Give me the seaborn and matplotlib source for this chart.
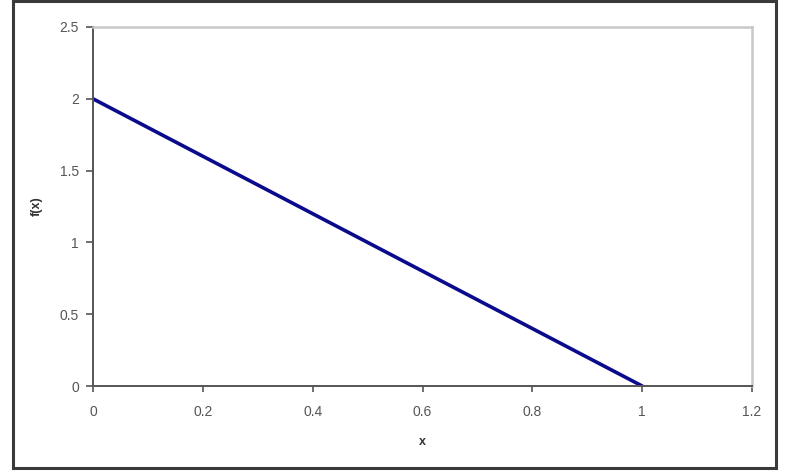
import matplotlib
matplotlib.use('Agg')
import matplotlib.pyplot as plt
import numpy as np
import pandas as pd
import seaborn as sns

sns.set_style('ticks')
plt.rcParams['font.family'] = ['Liberation Sans', 'DejaVu Sans']

# data: f(x) = 2 - 2x
x_vals = [0.0, 0.1, 0.2, 0.3, 0.4, 0.5, 0.6, 0.7, 0.8, 0.9, 1.0]
fx_vals = [2.0, 1.8, 1.6, 1.4, 1.2, 1.0, 0.8, 0.6, 0.4, 0.2, 0.0]
x_ticks = [0, 0.2, 0.4, 0.6, 0.8, 1, 1.2]
x_ticklabels = ['0', '0.2', '0.4', '0.6', '0.8', '1', '1.2']
y_ticks = [0, 0.5, 1, 1.5, 2, 2.5]
y_ticklabels = ['0', '0.5', '1', '1.5', '2', '2.5']

df = pd.DataFrame({'x': x_vals, 'f(x)': fx_vals})

fig = plt.figure(figsize=(7.9, 4.76), dpi=100)
fig.patch.set_facecolor('white')

# outer chart frame (Excel style)
frame = plt.Rectangle((13 / 790, 1 - 468 / 476), 763 / 790, 467 / 476,
                      transform=fig.transFigure, fill=False,
                      edgecolor='#3a3a3a', linewidth=2.2, zorder=0)
fig.patches.append(frame)

ax = fig.add_axes([93 / 790, 1 - 386 / 476, 659 / 790, 359 / 476])
sns.lineplot(data=df, x='x', y='f(x)', ax=ax, color='#0a0a8c', linewidth=2.6)

ax.set_xlim(0, 1.2)
ax.set_ylim(0, 2.5)
ax.set_xticks(x_ticks)
ax.set_xticklabels(x_ticklabels)
ax.set_yticks(y_ticks)
ax.set_yticklabels(y_ticklabels)

for s in ['top', 'right']:
    ax.spines[s].set_visible(True)
    ax.spines[s].set_color('#c8c8c8')
    ax.spines[s].set_linewidth(1.8)
for s in ['left', 'bottom']:
    ax.spines[s].set_color('#555555')
    ax.spines[s].set_linewidth(1.4)

ax.tick_params(axis='x', length=4, width=1.2, color='#555555', pad=10,
               labelsize=10, labelcolor='#555555')
ax.tick_params(axis='y', length=5, width=1.2, color='#555555', pad=5,
               labelsize=10, labelcolor='#555555')

ax.set_xlabel('x', fontsize=9, color='#333333', fontweight='bold')
ax.set_ylabel('f(x)', fontsize=9, color='#333333', fontweight='bold')
ax.xaxis.set_label_coords(0.5, -0.138)
ax.yaxis.set_label_coords(-0.077, 0.5)

fig.savefig('out.png', dpi=100)
plt.close()
